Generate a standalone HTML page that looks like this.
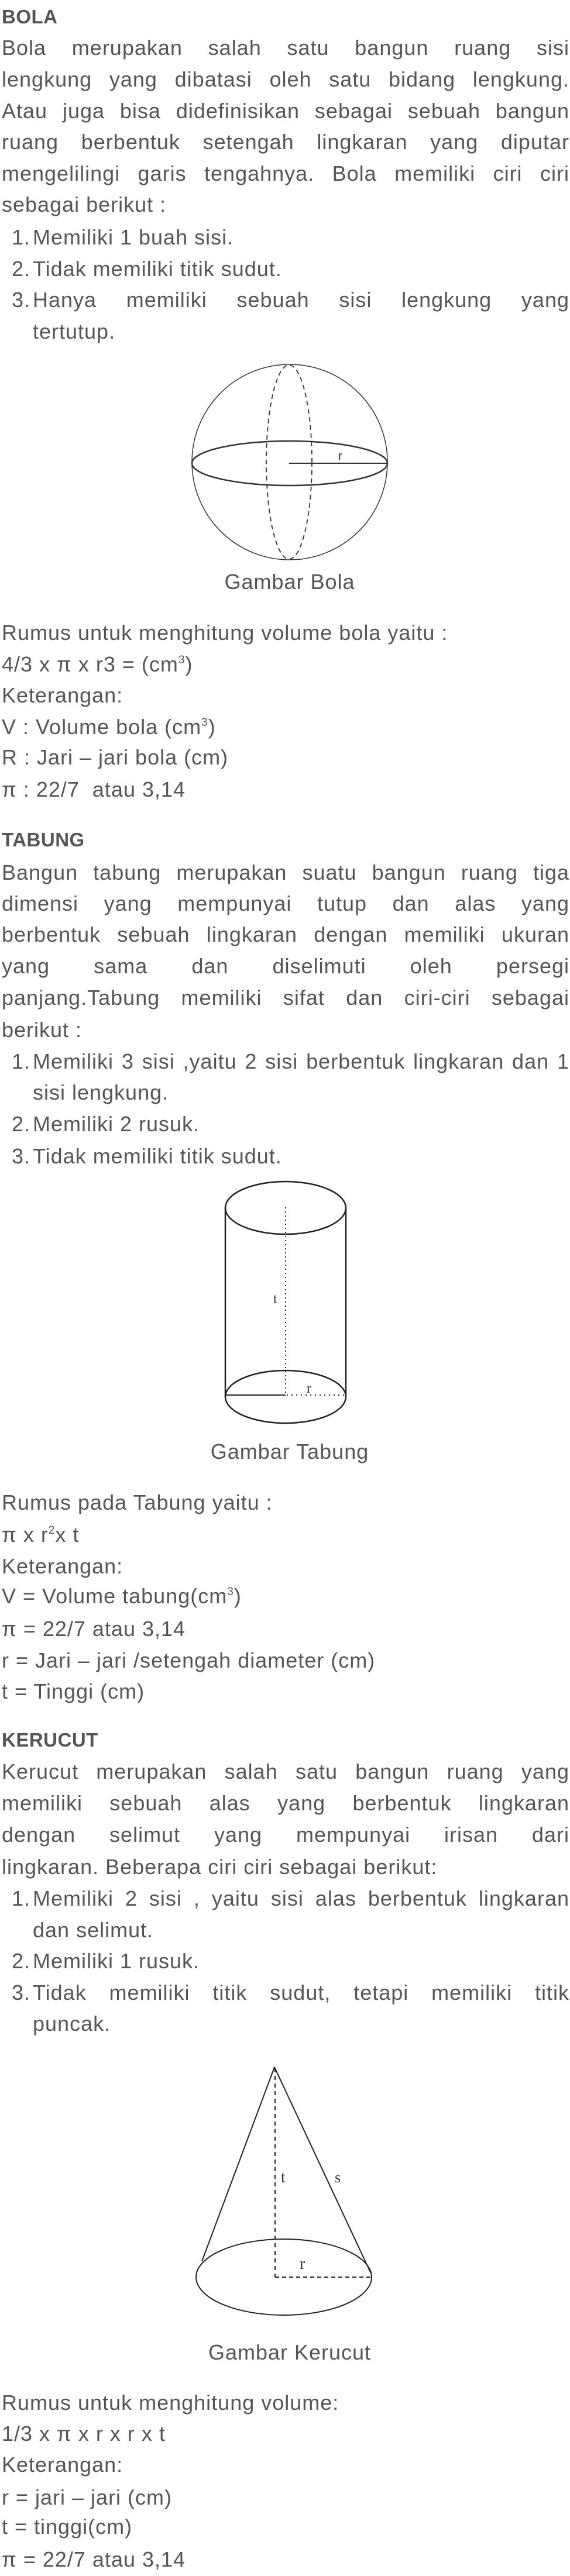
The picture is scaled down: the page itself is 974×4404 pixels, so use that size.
<!DOCTYPE html>
<html><head><meta charset="utf-8"><style>
html,body{margin:0;padding:0;background:#fff;}
body{width:974px;height:4404px;position:relative;overflow:hidden;font-family:"Liberation Sans",sans-serif;color:#555;font-size:36px;letter-spacing:1px;}
.l{position:absolute;left:3px;right:1px;height:54px;line-height:54px;white-space:nowrap;}
.j{text-align:justify;text-align-last:justify;}
.h{font-weight:bold;font-size:33px;color:#555;letter-spacing:0.5px;}
.li{left:56px;}
.n{position:absolute;left:12px;width:40px;height:54px;line-height:54px;text-align:right;}
.c{position:absolute;left:0;width:990px;text-align:center;height:54px;line-height:54px;}
sup{font-size:19px;vertical-align:14px;line-height:0;}
svg{position:absolute;left:0;top:0;letter-spacing:0;}
</style></head><body>
<svg width="974" height="4404">
<g fill="none" stroke="#333">
<circle cx="495" cy="790" r="167" stroke-width="1.5"/>
<ellipse cx="495" cy="792" rx="167" ry="38" stroke-width="2.5"/>
<ellipse cx="494" cy="790" rx="39" ry="166" stroke-dasharray="8 6" stroke-width="1.8"/>
<line x1="494" y1="792" x2="662" y2="792" stroke-width="2"/>
<text x="578" y="786" font-size="20" fill="#333" stroke="none" font-family="Liberation Sans">r</text>
</g>
<g fill="none" stroke="#222" stroke-width="2.5">
<ellipse cx="488" cy="2065" rx="103" ry="45"/>
<path d="M385 2388 A103 45 0 0 0 591 2388 A103 45 0 0 0 385 2388"/>
<line x1="385" y1="2065" x2="385" y2="2388"/>
<line x1="591" y1="2065" x2="591" y2="2388"/>
<line x1="488" y1="2064" x2="488" y2="2384" stroke-width="2" stroke-dasharray="2 5"/>
<line x1="385" y1="2385" x2="488" y2="2385" stroke-width="2"/>
<line x1="490" y1="2385" x2="590" y2="2385" stroke-width="2" stroke-dasharray="2 6"/>
<text x="467" y="2228" font-size="24" fill="#333" stroke="none" font-family="Liberation Serif">t</text>
<text x="524" y="2381" font-size="24" fill="#333" stroke="none" font-family="Liberation Serif">r</text>
</g>
<g fill="none" stroke="#222" stroke-width="2">
<ellipse cx="485" cy="3893" rx="150" ry="65"/>
<line x1="469" y1="3534" x2="345" y2="3866"/>
<line x1="469" y1="3534" x2="634" y2="3887"/>
<line x1="470" y1="3536" x2="470" y2="3893" stroke-dasharray="7 6"/>
<line x1="470" y1="3893" x2="634" y2="3893" stroke-dasharray="7 5"/>
<text x="480" y="3731" font-size="28" fill="#333" stroke="none" font-family="Liberation Serif">t</text>
<text x="572" y="3731" font-size="26" fill="#333" stroke="none" font-family="Liberation Serif">s</text>
<text x="512" y="3879" font-size="28" fill="#333" stroke="none" font-family="Liberation Serif">r</text>
</g>
</svg>

<div class="l h" style="top:2px">BOLA</div>
<div class="l j" style="top:55px">Bola merupakan salah satu bangun ruang sisi</div>
<div class="l j" style="top:109px">lengkung yang dibatasi oleh satu bidang lengkung.</div>
<div class="l j" style="top:163px">Atau juga bisa didefinisikan sebagai sebuah bangun</div>
<div class="l j" style="top:216px">ruang berbentuk setengah lingkaran yang diputar</div>
<div class="l j" style="top:270px">mengelilingi garis tengahnya. Bola memiliki ciri ciri</div>
<div class="l" style="top:323px">sebagai berikut :</div>
<div class="n" style="top:379px">1.</div>
<div class="l li" style="top:379px">Memiliki 1 buah sisi.</div>
<div class="n" style="top:433px">2.</div>
<div class="l li" style="top:433px">Tidak memiliki titik sudut.</div>
<div class="n" style="top:486px">3.</div>
<div class="l li j" style="top:486px">Hanya memiliki sebuah sisi lengkung yang</div>
<div class="l li" style="top:540px">tertutup.</div>
<div class="c" style="top:968px">Gambar Bola</div>
<div class="l" style="top:1055px">Rumus untuk menghitung volume bola yaitu :</div>
<div class="l" style="top:1109px">4/3 x π x r3 = (cm<sup>3</sup>)</div>
<div class="l" style="top:1162px">Keterangan:</div>
<div class="l" style="top:1216px">V : Volume bola (cm<sup>3</sup>)</div>
<div class="l" style="top:1268px">R : Jari – jari bola (cm)</div>
<div class="l" style="top:1323px">π : 22/7 &nbsp;atau 3,14</div>

<div class="l h" style="top:1409px">TABUNG</div>
<div class="l j" style="top:1465px">Bangun tabung merupakan suatu bangun ruang tiga</div>
<div class="l j" style="top:1518px">dimensi yang mempunyai tutup dan alas yang</div>
<div class="l j" style="top:1571px">berbentuk sebuah lingkaran dengan memiliki ukuran</div>
<div class="l j" style="top:1625px">yang sama dan diselimuti oleh persegi</div>
<div class="l j" style="top:1679px">panjang.Tabung memiliki sifat dan ciri-ciri sebagai</div>
<div class="l" style="top:1734px">berikut :</div>
<div class="n" style="top:1788px">1.</div>
<div class="l li j" style="top:1788px">Memiliki 3 sisi ,yaitu 2 sisi berbentuk lingkaran dan 1</div>
<div class="l li" style="top:1841px">sisi lengkung.</div>
<div class="n" style="top:1895px">2.</div>
<div class="l li" style="top:1895px">Memiliki 2 rusuk.</div>
<div class="n" style="top:1950px">3.</div>
<div class="l li" style="top:1950px">Tidak memiliki titik sudut.</div>
<div class="c" style="top:2455px">Gambar Tabung</div>
<div class="l" style="top:2542px">Rumus pada Tabung yaitu :</div>
<div class="l" style="top:2597px">π x r<sup>2</sup>x t</div>
<div class="l" style="top:2651px">Keterangan:</div>
<div class="l" style="top:2702px">V = Volume tabung(cm<sup>3</sup>)</div>
<div class="l" style="top:2758px">π = 22/7 atau 3,14</div>
<div class="l" style="top:2812px">r = Jari – jari /setengah diameter (cm)</div>
<div class="l" style="top:2865px">t = Tinggi (cm)</div>

<div class="l h" style="top:2948px">KERUCUT</div>
<div class="l j" style="top:3002px">Kerucut merupakan salah satu bangun ruang yang</div>
<div class="l j" style="top:3056px">memiliki sebuah alas yang berbentuk lingkaran</div>
<div class="l j" style="top:3110px">dengan selimut yang mempunyai irisan dari</div>
<div class="l" style="top:3165px">lingkaran. Beberapa ciri ciri sebagai berikut:</div>
<div class="n" style="top:3219px">1.</div>
<div class="l li j" style="top:3219px">Memiliki 2 sisi , yaitu sisi alas berbentuk lingkaran</div>
<div class="l li" style="top:3273px">dan selimut.</div>
<div class="n" style="top:3326px">2.</div>
<div class="l li" style="top:3326px">Memiliki 1 rusuk.</div>
<div class="n" style="top:3380px">3.</div>
<div class="l li j" style="top:3380px">Tidak memiliki titik sudut, tetapi memiliki titik</div>
<div class="l li" style="top:3433px">puncak.</div>
<div class="c" style="top:3995px">Gambar Kerucut</div>
<div class="l" style="top:4081px">Rumus untuk menghitung volume:</div>
<div class="l" style="top:4134px">1/3 x π x r x r x t</div>
<div class="l" style="top:4187px">Keterangan:</div>
<div class="l" style="top:4243px">r = jari – jari (cm)</div>
<div class="l" style="top:4293px">t = tinggi(cm)</div>
<div class="l" style="top:4349px">π = 22/7 atau 3,14</div>
</body></html>
